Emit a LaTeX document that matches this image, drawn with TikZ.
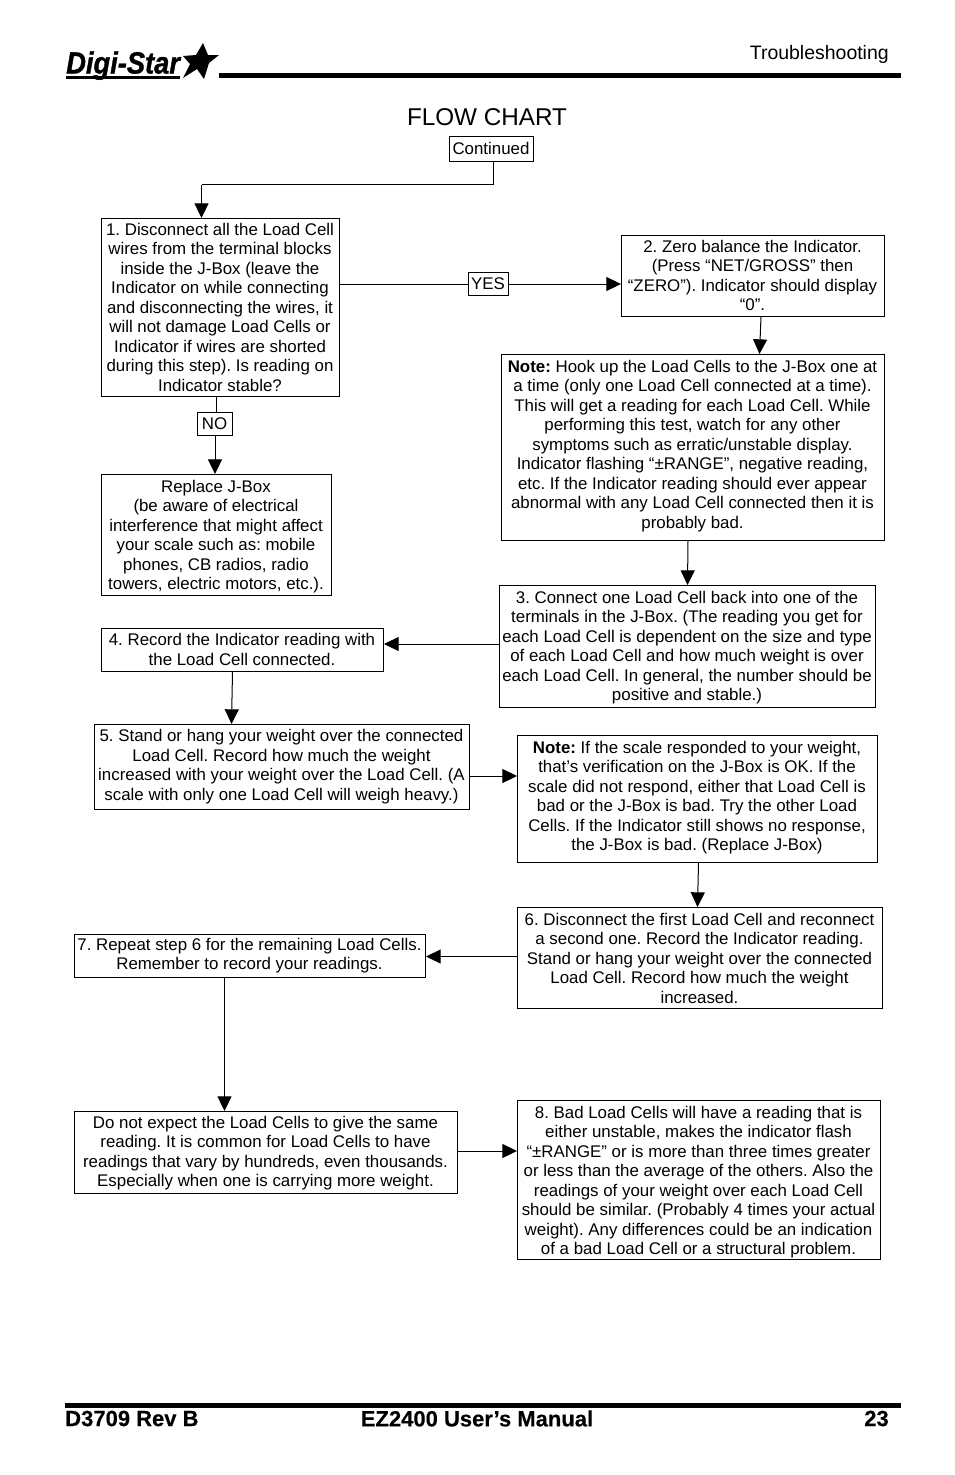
\documentclass[tikz,border=0pt]{standalone}
\usepackage{fontspec}
\setmainfont{Liberation Sans}
\newfontfamily\logofont[FakeBold=1.2]{Liberation Sans Bold Italic}
\newfontfamily\footfont[FakeBold=0.25]{Liberation Sans Bold}
\usetikzlibrary{arrows.meta}
\tikzset{
  boxn/.style={draw=black,line width=0.75pt,inner sep=0pt},
  boxtext/.style={inner sep=0pt,align=center,font=\fontsize{12.65pt}{14.62pt}\selectfont},
  conn/.style={draw=black,line width=0.75pt,-{Triangle[length=11pt,width=10.5pt]}},
  plain/.style={draw=black,line width=0.75pt},
  rulebar/.style={fill=black,draw=none},
  labeltext/.style={inner sep=0pt}
}
% [text offset in px]{name}{x1}{y1}{x2}{y2}{text}
\newcommand{\bx}[7][0]{%
  \node[boxn,minimum width={(#5-#3)*0.75pt},minimum height={(#6-#4)*0.75pt}] (#2) at ({(#3+#5)/2+0.5},{(#4+#6)/2+0.5}) {};
  \node[boxtext] (#2-text) at ({(#3+#5)/2},{(#4+#6)/2+#1}) {#7};}
\begin{document}
\frenchspacing
\begin{tikzpicture}[x=0.75pt,y=-0.75pt]
\useasboundingbox (0,0) rectangle (954,1475);
% header
\node[labeltext,anchor=base west,font=\logofont\fontsize{23pt}{23pt}\selectfont,xscale=0.89] (logo) at (66,73.5) {Digi-Star};
\fill (66,75.5) rectangle (180,78.5);
\fill (203,43) -- (208,55) -- (219,55) -- (209,63) -- (204,79) -- (197,69) -- (183,78) -- (190,64) -- (183,56) -- (196,55) -- cycle;
\fill[rulebar] (219,73) rectangle (901,78);
\node[labeltext,anchor=east,font=\fontsize{14.6pt}{14.6pt}\selectfont] (hdr) at (889,54) {Troubleshooting};
\node[labeltext,font=\fontsize{18.2pt}{18.2pt}\selectfont] (title) at (487,117) {FLOW CHART};
% boxes
\bx{cont}{449}{136}{533}{161}{Continued}
\bx{one}{101}{218}{339}{396}{1. Disconnect all the Load Cell\\wires from the terminal blocks\\inside the J-Box (leave the\\Indicator on while connecting\\and disconnecting the wires, it\\will not damage Load Cells or\\Indicator if wires are shorted\\during this step). Is reading on\\Indicator stable?}
\bx{yes}{468}{272}{508}{295}{YES}
\bx{two}{621}{235}{884}{316}{2. Zero balance the Indicator.\\(Press “NET/GROSS” then\\“ZERO”). Indicator should display\\“0”.}
\bx[-1]{noteA}{501}{354}{884}{540}{\textbf{Note:} Hook up the Load Cells to the J-Box one at\\a time (only one Load Cell connected at a time).\\This will get a reading for each Load Cell. While\\performing this test, watch for any other\\symptoms such as erratic/unstable display.\\Indicator flashing “±RANGE”, negative reading,\\etc. If the Indicator reading should ever appear\\abnormal with any Load Cell connected then it is\\probably bad.}
\bx{no}{197}{412}{232}{435}{NO}
\bx[2]{repl}{101}{474}{331}{595}{Replace J-Box\\(be aware of electrical\\interference that might affect\\your scale such as: mobile\\phones, CB radios, radio\\towers, electric motors, etc.).}
\bx[1.5]{three}{499}{585}{875}{707}{3. Connect one Load Cell back into one of the\\terminals in the J-Box. (The reading you get for\\each Load Cell is dependent on the size and type\\of each Load Cell and how much weight is over\\each Load Cell. In general, the number should be\\positive and stable.)}
\bx{four}{101}{628}{383}{671}{4. Record the Indicator reading with\\the Load Cell connected.}
\bx{five}{94}{724}{469}{809}{5. Stand or hang your weight over the connected\\Load Cell. Record how much the weight\\increased with your weight over the Load Cell. (A\\scale with only one Load Cell will weigh heavy.)}
\bx[-1]{noteB}{517}{735}{877}{862}{\textbf{Note:} If the scale responded to your weight,\\that’s verification on the J-Box is OK. If the\\scale did not respond, either that Load Cell is\\bad or the J-Box is bad. Try the other Load\\Cells. If the Indicator still shows no response,\\the J-Box is bad. (Replace J-Box)}
\bx[0.5]{six}{517}{907}{882}{1008}{6. Disconnect the first Load Cell and reconnect\\a second one. Record the Indicator reading.\\Stand or hang your weight over the connected\\Load Cell. Record how much the weight\\increased.}
\bx{seven}{74}{934}{425}{977}{7. Repeat step 6 for the remaining Load Cells.\\Remember to record your readings.}
\bx[1]{donot}{74}{1111}{457}{1193}{Do not expect the Load Cells to give the same\\reading. It is common for Load Cells to have\\readings that vary by hundreds, even thousands.\\Especially when one is carrying more weight.}
\bx[2.5]{eight}{517}{1100}{880}{1259}{8. Bad Load Cells will have a reading that is\\either unstable, makes the indicator flash\\“±RANGE” or is more than three times greater\\or less than the average of the others. Also the\\readings of your weight over each Load Cell\\should be similar. (Probably 4 times your actual\\weight). Any differences could be an indication\\of a bad Load Cell or a structural problem.}
% connector guide positions
\coordinate (bendA) at (493.5,184.5);
\coordinate (bendB) at (201.5,184.5);
\coordinate (xTwoOut) at (761,0);
\coordinate (xNoteIn) at (759.5,0);
\coordinate (xNo) at (216.5,0);
\coordinate (xNoteOut) at (688,0);
\coordinate (yThree) at (0,644);
\coordinate (xFourOut) at (232.5,0);
\coordinate (xFiveIn) at (231.5,0);
\coordinate (yFive) at (0,776);
\coordinate (xBOut) at (698.5,0);
\coordinate (xSixIn) at (697.5,0);
\coordinate (ySix) at (0,956.5);
\coordinate (xSeven) at (224.5,0);
\coordinate (yDo) at (0,1151);
% connectors
\draw[plain] (bendA |- cont.south) -- (bendA) -- (bendB);
\draw[conn] (bendB) -- (bendB |- one.north);
\draw[plain] (one.east |- yes.west) -- (yes.west);
\draw[conn] (yes.east) -- (two.west |- yes.east);
\draw[conn] (xTwoOut |- two.south) -- (xNoteIn |- noteA.north);
\draw[plain] (xNo |- one.south) -- (xNo |- no.north);
\draw[conn] (no.south) -- (no.south |- repl.north);
\draw[conn] (xNoteOut |- noteA.south) -- (three.north);
\draw[conn] (three.west |- yThree) -- (four.east |- yThree);
\draw[conn] (xFourOut |- four.south) -- (xFiveIn |- five.north);
\draw[conn] (five.east |- yFive) -- (noteB.west |- yFive);
\draw[conn] (xBOut |- noteB.south) -- (xSixIn |- six.north);
\draw[conn] (six.west |- ySix) -- (seven.east |- ySix);
\draw[conn] (xSeven |- seven.south) -- (xSeven |- donot.north);
\draw[conn] (donot.east |- yDo) -- (eight.west |- yDo);
% footer
\fill[rulebar] (65,1403) rectangle (901,1407.5);
\node[labeltext,anchor=west,font=\footfont\fontsize{16.5pt}{16.5pt}\selectfont] (fa) at (65,1418.5) {D3709 Rev B};
\node[labeltext,font=\footfont\fontsize{16.5pt}{16.5pt}\selectfont] (fb) at (477,1418.5) {EZ2400 User’s Manual};
\node[labeltext,anchor=east,font=\footfont\fontsize{16.5pt}{16.5pt}\selectfont] (fc) at (889,1418.5) {23};
\end{tikzpicture}
\end{document}
